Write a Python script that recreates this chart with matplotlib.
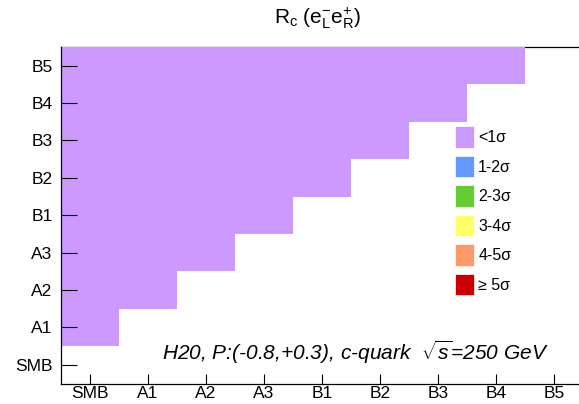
import numpy as np
import matplotlib
matplotlib.use('Agg')
import matplotlib.pyplot as plt
from matplotlib.colors import ListedColormap
from matplotlib.patches import Patch

plt.rcParams['font.family'] = ['Liberation Sans', 'DejaVu Sans']
plt.rcParams['mathtext.fontset'] = 'custom'
plt.rcParams['mathtext.rm'] = 'Liberation Sans'
plt.rcParams['mathtext.it'] = 'Liberation Sans:italic'

# categories on both axes
x_labels = ['SMB', 'A1', 'A2', 'A3', 'B1', 'B2', 'B3', 'B4', 'B5']
y_labels = ['SMB', 'A1', 'A2', 'A3', 'B1', 'B2', 'B3', 'B4', 'B5']

# significance bin per cell (0: <1sigma ... 5: >=5sigma), None = empty
n = None
sig_bin = [
    [n, n, n, n, n, n, n, n, n],  # SMB
    [0, n, n, n, n, n, n, n, n],  # A1
    [0, 0, n, n, n, n, n, n, n],  # A2
    [0, 0, 0, n, n, n, n, n, n],  # A3
    [0, 0, 0, 0, n, n, n, n, n],  # B1
    [0, 0, 0, 0, 0, n, n, n, n],  # B2
    [0, 0, 0, 0, 0, 0, n, n, n],  # B3
    [0, 0, 0, 0, 0, 0, 0, n, n],  # B4
    [0, 0, 0, 0, 0, 0, 0, 0, n],  # B5
]

bin_labels = ['<1σ', '1-2σ', '2-3σ', '3-4σ', '4-5σ', '≥ 5σ']
bin_colors = ['#CC99FF', '#6699FF', '#66CC33', '#FFFF66', '#FF9966', '#CC0000']

fig = plt.figure(figsize=(5.79, 4.04), dpi=100)
ax = fig.add_axes([0.1054, 0.0507, 0.9016, 0.833])

z = np.array([[np.nan if v is None else v for v in row] for row in sig_bin], dtype=float)
cmap = ListedColormap(bin_colors)
ax.pcolormesh(np.arange(len(x_labels) + 1) - 0.5, np.arange(len(y_labels) + 1) - 0.5,
              np.ma.masked_invalid(z), cmap=cmap, vmin=-0.5, vmax=5.5, zorder=1)

ax.set_xlim(-0.5, len(x_labels) - 0.5)
ax.set_ylim(-0.5, len(y_labels) - 0.5)
ax.set_xticks(range(len(x_labels)))
ax.set_xticklabels(x_labels)
ax.set_yticks(range(len(y_labels)))
ax.set_yticklabels(y_labels)
ax.tick_params(axis='x', direction='in', length=7, width=0.8, pad=2, labelsize=12.5)
ax.tick_params(axis='y', direction='in', length=11.5, width=0.8, pad=6, labelsize=12.5)
for s in ax.spines.values():
    s.set_linewidth(0.9)
ax.spines['top'].set_zorder(0.5)

fig.text(0.548, 0.955, r'R$_{\rm c}$ (e$^{-}_{\rm L}$e$^{+}_{\rm R}$)', fontsize=15,
         ha='center', va='center')

handles = [Patch(facecolor=c, edgecolor='white', linewidth=0.5) for c in bin_colors]
ax.legend(handles, bin_labels, loc='upper left', bbox_to_anchor=(455 / 579, 1 - 126 / 404),
          bbox_transform=fig.transFigure, frameon=False, fontsize=11.5,
          handlelength=1.2, handleheight=1.7, handletextpad=0.25, labelspacing=0.5,
          borderpad=0, borderaxespad=0)

fig.text(0.947, 0.129, r'H20, P:(-0.8,+0.3), c-quark  $\sqrt{s}$=250 GeV',
         ha='right', va='center', fontsize=15, style='italic')

fig.savefig('out.png', dpi=100)
